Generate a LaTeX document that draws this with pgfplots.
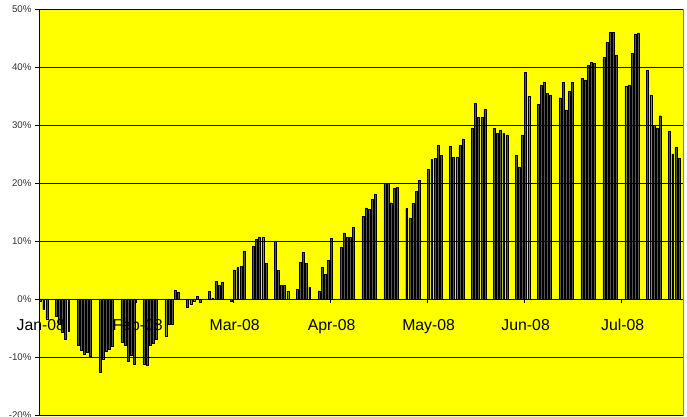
\documentclass[border=0pt]{standalone}
\usepackage{pgfplots}
\pgfplotsset{compat=1.18}
\usepackage{pgfplotstable}
\usepackage{fontspec}
\setmainfont{Liberation Sans}
\definecolor{barfill}{RGB}{85,85,85}
\pgfplotstableread{
x y
0 -0.4
1 -1.8
2 -3.4
5 -3.0
6 -4.3
7 -5.8
8 -7.0
9 -5.5
12 -7.9
13 -8.9
14 -9.6
15 -9.2
16 -9.9
19 -12.7
20 -10.3
21 -9.0
22 -8.7
23 -8.1
26 -7.5
27 -8.0
28 -10.8
29 -9.7
30 -11.3
33 -11.2
34 -11.5
35 -7.9
36 -7.7
37 -6.9
40 -6.4
41 -4.4
42 -4.3
43 1.5
44 1.1
47 -1.5
48 -0.9
49 -0.3
50 0.4
51 -0.5
54 1.3
55 0.2
56 3.0
57 2.3
58 2.9
61 -0.4
62 5.0
63 5.4
64 5.6
65 8.3
68 9.1
69 10.3
70 10.7
71 10.6
72 6.1
75 10.0
76 4.9
77 2.3
78 2.3
79 1.3
82 1.7
83 6.3
84 8.1
85 6.1
86 2.0
89 1.4
90 5.4
91 4.3
92 6.7
93 10.4
96 9.0
97 11.4
98 10.6
99 10.6
100 12.3
103 14.3
104 15.7
105 15.4
106 17.2
107 18.1
110 19.9
111 19.9
112 16.6
113 19.1
114 19.3
117 15.6
118 14.0
119 16.5
120 18.5
121 20.5
124 22.3
125 24.1
126 24.2
127 26.5
128 24.8
131 26.4
132 24.5
133 24.5
134 26.5
135 27.6
138 29.5
139 33.7
140 31.3
141 31.3
142 32.7
145 29.4
146 28.6
147 29.1
148 28.6
149 28.3
152 24.8
153 22.8
154 28.3
155 39.1
156 34.9
159 33.6
160 36.9
161 37.4
162 35.5
163 35.2
166 34.7
167 37.3
168 32.6
169 35.9
170 37.4
173 38.1
174 37.8
175 40.3
176 40.8
177 40.6
180 41.7
181 44.2
182 46.0
183 46.0
184 42.1
187 36.7
188 36.9
189 42.3
190 45.7
191 45.9
194 39.4
195 35.2
196 29.9
197 29.5
198 31.6
201 29.0
202 25.0
203 26.1
204 24.2
}\datatable
\begin{document}
\begin{tikzpicture}
\begin{axis}[
  scale only axis,
  width=644pt, height=406pt,
  xmin=-0.5, xmax=205.3,
  ymin=-20, ymax=50,
  axis background/.style={fill={rgb,255:red,255;green,255;blue,0}},
  axis on top,
  axis x line=middle,
  axis y line=left,
  axis line style={-, line width=0.8pt, black},
  ytick={-20,-10,0,10,20,30,40,50},
  yticklabels={-20\%,-10\%,0\%,10\%,20\%,30\%,40\%,50\%},
  yticklabel style={font=\fontsize{9.7}{11}\selectfont, text=black!80},
  xtick={-0.45,30.5,61.5,92.5,123.5,154.5,185.5},
  xticklabels={Jan-08,Feb-08,Mar-08,Apr-08,May-08,Jun-08,Jul-08},
  xticklabel style={font=\fontsize{15.8}{18}\selectfont, anchor=base, yshift=-28pt, xshift=1.6pt},
  tick align=outside,
  major tick length=4pt,
  tick style={black, line width=0.6pt},
  ymajorgrids,
  grid style={black, line width=0.8pt},
  clip=false,
]
\draw[gray, line width=0.8pt] (rel axis cs:0,0) rectangle (rel axis cs:1,1);
\addplot[ybar, bar width=0.62, fill=barfill, draw=black, line width=0.4pt] table[x=x,y=y] {\datatable};
\coordinate (bl) at (rel axis cs:0,0);
\coordinate (tr) at (rel axis cs:1,1);
\end{axis}
\pgfresetboundingbox
\useasboundingbox ([xshift=-39pt,yshift=-2pt]bl) rectangle ([xshift=4pt,yshift=9pt]tr);
\end{tikzpicture}
\end{document}
